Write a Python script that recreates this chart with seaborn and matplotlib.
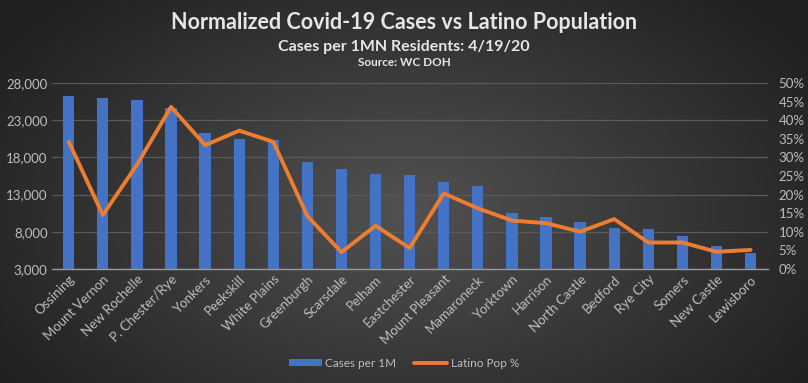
import numpy as np
import pandas as pd
import seaborn as sns
import matplotlib.pyplot as plt
from matplotlib.ticker import FuncFormatter, PercentFormatter
from matplotlib.patches import Patch
from matplotlib.lines import Line2D

towns = ['Ossining', 'Mount Vernon', 'New Rochelle', 'P. Chester/Rye', 'Yonkers',
         'Peekskill', 'White Plains', 'Greenburgh', 'Scarsdale', 'Pelham',
         'Eastchester', 'Mount Pleasant', 'Mamaroneck', 'Yorktown', 'Harrison',
         'North Castle', 'Bedford', 'Rye City', 'Somers', 'New Castle', 'Lewisboro']
cases_per_1m = [26200, 26000, 25700, 24700, 21300, 20500, 20300, 17350, 16400, 15770,
                15600, 14750, 14150, 10480, 10030, 9270, 8550, 8380, 7390, 6090, 5100]
latino_pct = [34.2, 14.5, 28.0, 43.6, 33.3, 37.2, 34.2, 14.2, 4.5, 11.6,
              5.6, 20.3, 16.3, 13.0, 12.3, 10.0, 13.4, 7.1, 7.1, 4.6, 5.1]

df = pd.DataFrame({'town': towns, 'cases': cases_per_1m, 'latino': np.array(latino_pct) / 100})
df['pos'] = np.arange(len(df))

blue = '#4472C4'
orange = '#ED7D31'
tick_c = '#bdbdbd'

sns.set_style('dark')
plt.rcParams['font.family'] = ['Lato', 'DejaVu Sans']

fig = plt.figure(figsize=(8.08, 3.83), dpi=100)

# radial gradient background
bg = fig.add_axes([0, 0, 1, 1], zorder=-10)
yy, xx = np.mgrid[0:383, 0:808]
r = np.sqrt(((xx - 404) / 430) ** 2 + ((yy - 210) / 260) ** 2)
shade = np.clip(0.32 - 0.17 * r, 0.13, 0.32)
bg.imshow(np.dstack([shade] * 3), aspect='auto', extent=[0, 1, 0, 1])
bg.axis('off')

ax = fig.add_axes([0.064, 0.298, 0.886, 0.485])
ax.patch.set_alpha(0)
sns.barplot(data=df, x='pos', y='cases', color=blue, width=0.33, saturation=1,
            edgecolor='none', linewidth=0, ax=ax, zorder=2)
ax.set_ylim(3000, 28000)
ax.set_yticks(range(3000, 28001, 5000))
ax.yaxis.set_major_formatter(FuncFormatter(lambda v, p: f'{int(v):,}'))
ax.set_xlim(-0.5, len(df) - 0.5)
ax.set_xticks(df['pos'])
ax.set_xticklabels(towns, rotation=45, ha='right', rotation_mode='anchor')
ax.grid(axis='y', color='#5a5a5a', linewidth=0.9)
ax.grid(axis='x', visible=False)
ax.set_xlabel('')
ax.set_ylabel('')
for s in ['top', 'right', 'left']:
    ax.spines[s].set_visible(False)
ax.spines['bottom'].set_visible(True)
ax.spines['bottom'].set_color('#9a9a9a')
ax.spines['bottom'].set_linewidth(1)
ax.tick_params(axis='both', colors=tick_c, labelsize=9.5, length=0, pad=3)

ax2 = ax.twinx()
sns.lineplot(data=df, x='pos', y='latino', color=orange, linewidth=2.8, ax=ax2,
             zorder=3)
ax2.set_ylim(0, 0.5)
ax2.set_yticks(np.arange(0, 0.501, 0.05))
ax2.yaxis.set_major_formatter(PercentFormatter(1.0, decimals=0))
ax2.grid(False)
ax2.set_ylabel('')
ax2.set_xlabel('')
for s in ax2.spines.values():
    s.set_visible(False)
ax2.tick_params(axis='y', colors=tick_c, labelsize=9.5, length=0, pad=8)
ax2.patch.set_alpha(0)

fig.text(0.5, 0.94, 'Normalized Covid-19 Cases vs Latino Population', ha='center',
         va='center', color='#e6e6e6', fontsize=15.5, fontweight='bold')
fig.text(0.5, 0.877, 'Cases per 1MN Residents: 4/19/20', ha='center', va='center',
         color='#e6e6e6', fontsize=11.5, fontweight='bold')
fig.text(0.5, 0.838, 'Source: WC DOH', ha='center', va='center',
         color='#e6e6e6', fontsize=8.5, fontweight='bold')

handles = [Patch(facecolor=blue, edgecolor='none', label='Cases per 1M'),
           Line2D([0], [0], color=orange, linewidth=2.8, label='Latino Pop %')]
fig.legend(handles=handles, loc='center', bbox_to_anchor=(0.5, 0.052), ncol=2,
           frameon=False, fontsize=8.5, labelcolor=tick_c, handlelength=2.8,
           handleheight=0.5, columnspacing=1.5, handletextpad=0.3)

fig.savefig('out.png', dpi=100)
